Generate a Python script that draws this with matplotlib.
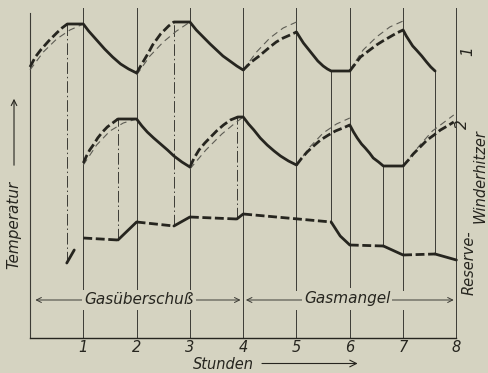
"""
plot.py

Winderhitzer temperature diagram (Gasüberschuß / Gasmangel), redrawn with matplotlib.
"""

import numpy as np
import matplotlib.pyplot as plt

nan = np.nan

# hours on the x axis, temperature in relative units (0 = base line)
HOURS = [1, 2, 3, 4, 5, 6, 7, 8]

# Winderhitzer 1 (actual course)
h1_h = [0, 0.1, 0.2, 0.35, 0.5, 0.6, 0.7,
        1.0, 1.1, 1.25, 1.4, 1.55, 1.7, 1.85, 2.0,
        2.12, 2.22, 2.3, 2.45, 2.6, 2.7,
        3.0, 3.12, 3.25, 3.38, 3.5, 3.62, 3.75, 3.88, 4.0,
        4.15, 4.3, 4.5, 4.62, 4.75, 4.88, 5.0,
        5.07, 5.13, 5.22, 5.31, 5.4, 5.5, 5.58, 5.65,
        6.0, 6.1, 6.2, 6.35, 6.5, 6.62, 6.75, 6.88, 7.0,
        7.06, 7.12, 7.18, 7.25, 7.35, 7.44, 7.52, 7.6]
h1_t = [271, 281, 288, 297, 305, 310, 314,
        314, 307, 298, 289, 281, 274, 269, 265,
        276, 285, 293, 304, 312, 316,
        316, 308, 301, 294, 288, 282, 277, 272, 268,
        276, 282, 291, 296, 300, 303, 306,
        300, 295, 289, 283, 277, 272, 269, 267,
        267, 274, 281, 287, 293, 297, 301, 305, 308,
        302, 297, 292, 288, 282, 276, 271, 267]
h1_heat = [(0, 0.7), (2, 2.7), (4, 5), (6, 7)]

# Winderhitzer 1 (normal heating)
h1_ideal_h = [0, 0.25, 0.5, 0.75, 1.0, nan, 2.0, 2.25, 2.5, 2.75, 3.0, nan,
              4.0, 4.25, 4.5, 4.75, 5.0, nan, 6.0, 6.25, 6.5, 6.75, 7.0]
h1_ideal_t = [268, 286, 299, 308, 314, nan, 263, 282, 296, 307, 316, nan,
              268, 286, 300, 310, 316, nan, 268, 288, 301, 311, 317]

# Winderhitzer 2 (actual course)
h2_h = [1.0, 1.06, 1.12, 1.2, 1.27, 1.36, 1.45, 1.55, 1.65,
        2.0, 2.1, 2.2, 2.32, 2.45, 2.58, 2.7, 2.85, 3.0,
        3.08, 3.17, 3.28, 3.39, 3.5, 3.63, 3.76, 3.9,
        4.0, 4.1, 4.2, 4.32, 4.45, 4.58, 4.7, 4.85, 5.0,
        5.1, 5.2, 5.32, 5.45, 5.6, 5.73, 5.87, 6.0,
        6.07, 6.14, 6.22, 6.29, 6.37, 6.44, 6.54, 6.63,
        7.0, 7.1, 7.19, 7.32, 7.45, 7.58, 7.7, 7.83, 7.95]
h2_t = [175, 182, 188, 194, 200, 206, 211, 215, 219,
        219, 212, 206, 200, 194, 188, 182, 176, 171,
        180, 188, 195, 201, 207, 213, 218, 221,
        221, 214, 208, 200, 193, 187, 182, 177, 173,
        180, 186, 192, 198, 203, 207, 210, 213,
        206, 200, 194, 190, 185, 180, 176, 172,
        172, 178, 184, 191, 198, 203, 208, 212, 216]
h2_heat = [(1, 1.65), (3, 3.9), (5, 6), (7, 7.95)]

# Winderhitzer 2 (normal heating)
h2_ideal_h = [1.0, 1.25, 1.5, 1.75, 2.0, nan, 3.0, 3.3, 3.6, 3.85, 4.0, nan,
              5.0, 5.25, 5.5, 5.75, 6.0, nan, 7.0, 7.3, 7.55, 7.8, 7.95]
h2_ideal_t = [173, 193, 207, 215, 219, nan, 169, 188, 204, 215, 221, nan,
              173, 191, 205, 214, 220, nan, 172, 192, 207, 217, 223]

# Reserve-Winderhitzer
res_start_h = [0.69, 0.83]
res_start_t = [75, 88]
res_h = [1.0, 1.65, 2.0, 2.7, 3.0, 3.88, 4.0, 5.65, 5.82, 6.0, 6.63, 7.0, 7.6, 8.0]
res_t = [100, 98, 116, 112, 121, 119, 124, 116, 102, 93, 92, 83, 84, 78]
res_idle = [(1, 1.65), (2, 2.7), (3, 3.88), (4, 5.65), (6, 6.63), (7, 7.6)]

# switching moments
sw_h = [0.7, 1.65, 2.7, 3.88, 5.65, 6.63, 7.6]
sw_top = [314, 219, 316, 221, 267, 172, 267]
sw_bot = [75, 98, 112, 119, 116, 92, 84]
SURPLUS_END = 4

BG = "#d5d3c1"
INK = "#26251f"
THIN = "#3c3b35"
FONT = dict(family="DejaVu Sans", style="italic", color=INK)

DASH_THICK = (0, (3.2, 1.3))
DASH_THIN = (0, (6, 4))
DASH_DOT = (0, (12, 3, 1.5, 3))


def in_phase(a, b, phases):
    return any(p0 - 1e-6 <= a and b <= p1 + 1e-6 for p0, p1 in phases)


def split_runs(xs, ys, phases):
    """Group consecutive segments into runs of equal style."""
    runs = []
    for i in range(len(xs) - 1):
        dashed = in_phase(xs[i], xs[i + 1], phases)
        if runs and runs[-1][0] == dashed:
            runs[-1][1].append(xs[i + 1])
            runs[-1][2].append(ys[i + 1])
        else:
            runs.append((dashed, [xs[i], xs[i + 1]], [ys[i], ys[i + 1]]))
    return runs


def draw_course(ax, xs, ys, heat, lw=2.0):
    for dashed, rx, ry in split_runs(xs, ys, heat):
        ax.plot(rx, ry, color=INK, lw=lw, ls=DASH_THICK if dashed else "-",
                solid_capstyle="round", solid_joinstyle="round",
                dash_capstyle="butt")


def main():
    fig = plt.figure(figsize=(4.89, 3.73), dpi=100)
    fig.patch.set_facecolor(BG)
    ax = fig.add_axes([0, 0, 1, 1])
    ax.set_facecolor(BG)
    ax.set_xlim(-30 / 53.3, 459 / 53.3)
    ax.set_ylim(-35, 338)
    ax.axis("off")

    # hour grid
    ax.plot([0, 0], [0, 325], color=THIN, lw=0.8)
    for h in HOURS:
        if h in (4, 8):
            ax.plot([h, h], [0, 330], color=THIN, lw=0.7)
        else:
            ax.plot([h, h], [0, 28], color=THIN, lw=0.7)
            ax.plot([h, h], [48, 330], color=THIN, lw=0.7)
    ax.plot([0, 8], [0, 0], color=INK, lw=1.0)

    # switching lines
    for h, top, bot in zip(sw_h, sw_top, sw_bot):
        style = DASH_DOT if h < SURPLUS_END else "-"
        ax.plot([h, h], [bot, top], color=THIN, lw=0.7, ls=style)

    # normal heating curves
    ax.plot(h1_ideal_h, h1_ideal_t, color="#5d5c54", lw=0.8, ls=DASH_THIN)
    ax.plot(h2_ideal_h, h2_ideal_t, color="#5d5c54", lw=0.8, ls=DASH_THIN)

    # actual courses
    draw_course(ax, h1_h, h1_t, h1_heat)
    draw_course(ax, h2_h, h2_t, h2_heat)
    ax.plot(res_start_h, res_start_t, color=INK, lw=2.0, solid_capstyle="round")
    draw_course(ax, res_h, res_t, res_idle)

    # Gasüberschuß / Gasmangel arrows
    arrow = dict(arrowstyle="<->", color=THIN, lw=0.7, shrinkA=0, shrinkB=0,
                 mutation_scale=9)
    ax.annotate("", xy=(0.1, 38), xytext=(3.95, 38), arrowprops=arrow)
    ax.annotate("", xy=(4.05, 38), xytext=(7.95, 38), arrowprops=arrow)
    box = dict(facecolor=BG, edgecolor="none", pad=1.5)
    ax.text(2.05, 38, "Gasüberschuß", ha="center", va="center", fontsize=11,
            bbox=box, **FONT)
    ax.text(5.95, 40, "Gasmangel", ha="center", va="center", fontsize=11,
            bbox=box, **FONT)

    # hour labels
    for h in HOURS:
        ax.text(h, -10, str(h), ha="center", va="center", fontsize=10.5, **FONT)
    ax.text(3.62, -26.5, "Stunden", ha="center", va="center", fontsize=10.5, **FONT)
    ax.annotate("", xy=(6.2, -25.5), xytext=(4.3, -25.5),
                arrowprops=dict(arrowstyle="->", color=INK, lw=0.8, mutation_scale=12))

    # temperature label
    ax.text(-0.3, 113, "Temperatur", ha="center", va="center", rotation=90,
            fontsize=11, **FONT)
    ax.annotate("", xy=(-0.3, 242), xytext=(-0.3, 170),
                arrowprops=dict(arrowstyle="->", color=INK, lw=0.8, mutation_scale=10))

    # curve names on the right
    ax.text(8.22, 287, "1", ha="center", va="center", rotation=90, fontsize=11, **FONT)
    ax.text(8.12, 214, "2", ha="center", va="center", rotation=90, fontsize=11, **FONT)
    ax.text(8.24, 75, "Reserve-", ha="center", va="center", rotation=90,
            fontsize=10.5, **FONT)
    ax.text(8.44, 162, "Winderhitzer", ha="center", va="center", rotation=90,
            fontsize=10.5, **FONT)

    fig.savefig("out.png", dpi=100, facecolor=BG)
    plt.close(fig)


if __name__ == "__main__":
    main()
